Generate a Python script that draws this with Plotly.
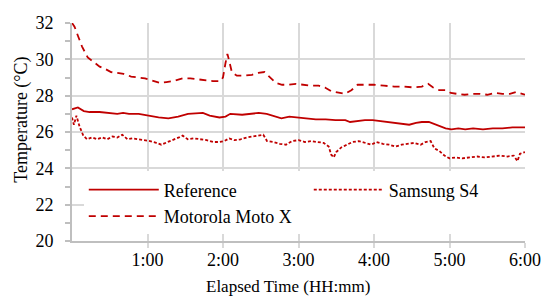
import plotly.graph_objects as go

# Elapsed minutes and temperatures (°C)
ref_t = [0, 2.3, 4.7, 9.4, 14, 21.9, 29.7, 36, 40.6, 45.3, 53, 61, 68.8, 76.6, 84.4, 92.2, 100, 104, 109.4,
         117.2, 122, 125.8, 135.2, 143, 148.4, 154.7, 161, 166.4, 172.7, 178, 186, 193.75, 201.6, 209.4,
         217.2, 221, 226.6, 232.8, 239, 244.5, 250.8, 256.25, 264, 268, 273.4, 278, 283.6, 287.5, 292,
         296.9, 301.6, 307, 312.5, 318.75, 326.6, 334.4, 342, 350, 360]
ref_v = [27.25, 27.3, 27.35, 27.15, 27.1, 27.1, 27.05, 27.0, 27.05, 27.0, 27.0, 26.9, 26.8, 26.75, 26.85,
         27.0, 27.05, 27.05, 26.9, 26.8, 26.85, 27.0, 26.95, 27.0, 27.05, 27.0, 26.85, 26.75, 26.85, 26.8,
         26.75, 26.7, 26.7, 26.65, 26.65, 26.55, 26.6, 26.65, 26.65, 26.6, 26.55, 26.5, 26.45, 26.4, 26.5,
         26.55, 26.55, 26.45, 26.35, 26.2, 26.15, 26.2, 26.15, 26.2, 26.15, 26.2, 26.2, 26.25, 26.25]

s4_t = [0, 1.5, 3.5, 6, 9, 12, 16, 20, 24, 28, 32, 36, 40, 44, 48, 53, 58, 62, 67, 71, 76, 80, 85, 88, 92,
        97, 102, 107, 112, 117, 121, 125, 129, 134, 139, 144, 148, 152, 155, 160, 165, 170, 175, 180, 185,
        190, 195, 200, 204, 206, 208, 210, 214, 219, 223, 228, 233, 238, 242, 247, 252, 257, 262, 267, 272,
        277, 281, 285, 288, 292, 296, 300, 305, 310, 316, 322, 328, 334, 340, 346, 351, 354, 356, 360]
s4_v = [26.8, 26.4, 26.9, 26.3, 25.8, 25.6, 25.7, 25.6, 25.7, 25.6, 25.75, 25.7, 25.85, 25.6, 25.65, 25.6,
        25.55, 25.5, 25.4, 25.3, 25.45, 25.55, 25.7, 25.8, 25.6, 25.65, 25.6, 25.55, 25.45, 25.45, 25.5,
        25.65, 25.55, 25.6, 25.7, 25.75, 25.8, 25.85, 25.5, 25.45, 25.35, 25.3, 25.5, 25.55, 25.45, 25.5,
        25.45, 25.4, 25.2, 24.75, 24.6, 24.9, 25.15, 25.3, 25.45, 25.5, 25.4, 25.3, 25.45, 25.35, 25.3,
        25.2, 25.3, 25.35, 25.4, 25.3, 25.45, 25.5, 25.1, 24.95, 24.7, 24.55, 24.6, 24.55, 24.6, 24.65,
        24.6, 24.65, 24.7, 24.65, 24.7, 24.4, 24.8, 24.9]

moto_t = [0, 2, 4.7, 8, 12.5, 17, 22, 27, 31, 36, 41, 47, 53, 58, 63, 70, 75, 80, 88, 94, 100, 106, 112,
          118, 120, 122, 123.5, 125, 127, 131, 137, 143, 148, 153, 157, 162, 167, 172, 178, 184, 190, 196,
          201, 206, 211, 217, 222, 227, 233, 240, 248, 256, 264, 272, 278, 283, 287, 292, 297, 301, 306,
          312, 318, 324, 330, 336, 342, 348, 353, 357, 360]
moto_v = [32.0, 31.8, 31.3, 30.7, 30.1, 29.85, 29.6, 29.45, 29.3, 29.25, 29.2, 29.05, 29.0, 28.95, 28.85,
          28.7, 28.75, 28.8, 28.95, 28.95, 28.9, 28.85, 28.8, 28.8, 29.0, 29.8, 30.3, 29.9, 29.3, 29.1, 29.1,
          29.15, 29.25, 29.3, 29.05, 28.7, 28.6, 28.6, 28.65, 28.6, 28.55, 28.55, 28.45, 28.25, 28.2, 28.1,
          28.3, 28.6, 28.6, 28.6, 28.55, 28.5, 28.5, 28.45, 28.5, 28.65, 28.45, 28.3, 28.3, 28.15, 28.1,
          28.05, 28.1, 28.1, 28.05, 28.15, 28.1, 28.1, 28.2, 28.1, 28.05]

tick_vals = [60, 120, 180, 240, 300, 360]
tick_text = ["1:00", "2:00", "3:00", "4:00", "5:00", "6:00"]

RED = "#C00000"
FONT = "Liberation Serif, Times New Roman, serif"
FS = 18
TXT = dict(family=FONT, size=FS, color="black")

fig = go.Figure()
fig.add_trace(go.Scatter(x=ref_t, y=ref_v, mode="lines", name="Reference",
                         line=dict(color=RED, width=1.8)))
fig.add_trace(go.Scatter(x=s4_t, y=s4_v, mode="lines", name="Samsung S4",
                         line=dict(color=RED, width=1.8, dash="3px,2px")))
fig.add_trace(go.Scatter(x=moto_t, y=moto_v, mode="lines", name="Motorola Moto X",
                         line=dict(color=RED, width=1.8, dash="7px,5px")))

fig.update_layout(
    width=553, height=298,
    margin=dict(l=72, r=20, t=23, b=57),
    paper_bgcolor="white", plot_bgcolor="white",
    font=TXT,
    showlegend=True,
    legend=dict(orientation="h", x=0.026, y=0.03, xanchor="left", yanchor="bottom",
                bgcolor="white", entrywidth=140, entrywidthmode="pixels", itemwidth=70,
                font=TXT, traceorder="normal"),
    annotations=[
        dict(text="Temperature (°C)", xref="paper", yref="paper", x=-0.113, y=0.555,
             textangle=-90, showarrow=False, font=TXT, xanchor="center", yanchor="middle"),
        dict(text="Elapsed Time (HH:mm)", xref="paper", yref="paper", x=0.476, y=-0.155,
             showarrow=False, font=dict(family=FONT, size=17, color="black"),
             xanchor="center", yanchor="top"),
    ],
)
fig.update_xaxes(range=[0, 360], tickvals=tick_vals, ticktext=tick_text, tickfont=TXT,
                 showgrid=True, gridcolor="#D9D9D9", gridwidth=1.5,
                 showline=True, linecolor="#BFBFBF", linewidth=2,
                 ticks="outside", ticklen=5, tickcolor="#D9D9D9", tickwidth=1.5,
                 ticklabelstandoff=-4, zeroline=False)
fig.update_yaxes(range=[20, 32], dtick=2, tickfont=TXT,
                 showgrid=True, gridcolor="#D9D9D9", gridwidth=1.5,
                 showline=True, linecolor="#BFBFBF", linewidth=2,
                 ticks="outside", ticklen=5, tickcolor="#BFBFBF", tickwidth=1.5,
                 ticklabelstandoff=8,
                 minor=dict(dtick=1, ticks="outside", ticklen=5, tickcolor="#BFBFBF", tickwidth=1.5,
                            showgrid=False),
                 zeroline=False)

fig.write_html("out.html", config={"displayModeBar": False},
               post_script="document.body.style.margin='0';")
